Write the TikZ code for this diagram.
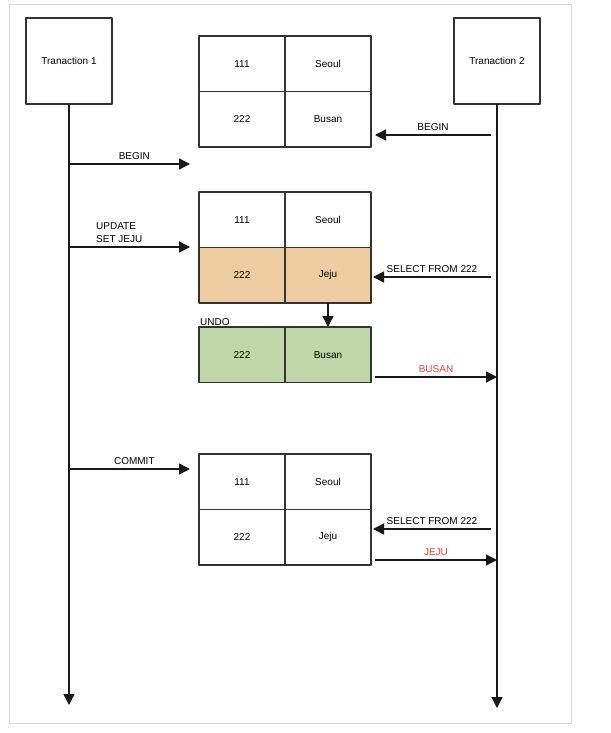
\documentclass[tikz,border=0pt]{standalone}
\usepackage{fontspec}
\setmainfont{Liberation Sans}
\usetikzlibrary{arrows.meta,positioning}

\definecolor{updfill}{RGB}{238,205,162}
\definecolor{undofill}{RGB}{192,215,170}
\definecolor{msgred}{RGB}{232,69,60}
\definecolor{framegray}{RGB}{216,216,216}

\begin{document}
\begin{tikzpicture}[
			x=1pt, y=-1pt,
			every node/.style={font=\fontsize{10}{13}\selectfont},
			line join=round,
			actor/.style={draw=black!80, line width=1.3pt, minimum width=86pt, minimum height=86pt, outer sep=0pt},
			cell/.style={draw=black!80, line width=1.3pt, minimum width=86pt, minimum height=55.5pt, inner sep=0pt, outer sep=0pt},
			msg/.style={draw=black!90, line width=1.3pt, -{Triangle[length=11pt,width=11pt]}},
			lbl/.style={above=2.5pt, inner sep=1.5pt}
			]
			\useasboundingbox (0,0) rectangle (610,733);
			% Frame
			\draw[framegray, line width=0.8pt] (9,4.5) rectangle (571,723);
			
			% Transactions and life lines
			\node[actor] (tx1) at (69,61) {Tranaction 1};
			\node[actor] (tx2) at (497,61) {Tranaction 2};
			\coordinate (tx1end) at (69,705);
			\coordinate (tx2end) at (497,708);
			\draw[msg] (tx1) -- (tx1end);
			\draw[msg] (tx2) -- (tx2end);
			
			% Table before update
			\node[cell, anchor=north west] (a111) at (199,36) {111};
			\node[cell, right=0pt of a111] (aseoul) {Seoul};
			\node[cell, below=0pt of a111] (a222) {222};
			\node[cell, right=0pt of a222] (abusan) {Busan};
			
			% Table after update, with undo row
			\node[cell, anchor=north west] (b111) at (199,192) {111};
			\node[cell, right=0pt of b111] (bseoul) {Seoul};
			\node[cell, fill=updfill, below=0pt of b111] (b222) {222};
			\node[cell, fill=updfill, right=0pt of b222] (bjeju) {Jeju};
			\node[cell, fill=undofill, below=24pt of b222] (u222) {222};
			\node[cell, fill=undofill, right=0pt of u222] (ubusan) {Busan};
			\node[anchor=south west, inner sep=1pt] (undolbl) at (u222.north west) {UNDO};
			\draw[msg] (bjeju) -- (ubusan);
			
			% Table after commit
			\node[cell, anchor=north west] (c111) at (199,454) {111};
			\node[cell, right=0pt of c111] (cseoul) {Seoul};
			\node[cell, below=0pt of c111] (c222) {222};
			\node[cell, right=0pt of c222] (cjeju) {Jeju};
			
			% Messages of transaction 1
			\coordinate (begin1) at (190,164);
			\draw[msg] (tx1end |- begin1) -- node[lbl, pos=0.54] (begin1lbl) {BEGIN} (begin1);
			
			\coordinate (update1) at (190,247);
			\draw[msg] (tx1end |- update1) -- (update1);
			\node[anchor=south west, align=left, inner sep=1pt] (update1lbl) at (95,244) {UPDATE\\SET JEJU};
			
			\coordinate (commit1) at (190,469);
			\draw[msg] (tx1end |- commit1) -- node[lbl, pos=0.54] (commit1lbl) {COMMIT} (commit1);
			
			% Messages of transaction 2
			\coordinate (begin2s) at (491,135);
			\coordinate (begin2) at (375,135);
			\draw[msg] (begin2s) -- node[lbl] (begin2lbl) {BEGIN} (begin2);
			
			\coordinate (select1s) at (491,277);
			\coordinate (select1) at (373,277);
			\draw[msg] (select1s) -- node[lbl] (select1lbl) {SELECT FROM 222} (select1);
			
			\coordinate (busans) at (375,377);
			\draw[msg] (busans) -- node[lbl, text=msgred] (busanlbl) {BUSAN} (tx2end |- busans);
			
			\coordinate (select2s) at (491,529);
			\coordinate (select2) at (373,529);
			\draw[msg] (select2s) -- node[lbl] (select2lbl) {SELECT FROM 222} (select2);
			
			\coordinate (jejus) at (375,560);
			\draw[msg] (jejus) -- node[lbl, text=msgred] (jejulbl) {JEJU} (tx2end |- jejus);
		\end{tikzpicture}
\end{document}
